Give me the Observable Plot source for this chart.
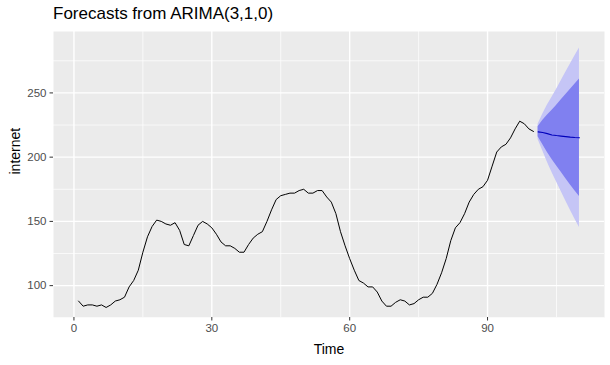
<!DOCTYPE html>
<html>
<head>
<meta charset="utf-8">
<script src="https://cdn.jsdelivr.net/npm/d3@7"></script>
<script src="https://cdn.jsdelivr.net/npm/@observablehq/plot@0.6"></script>
<style>
  body { margin: 0; background: white; }
  #wrap { position: relative; width: 610px; height: 365px; }
  #title { position: absolute; left: 53px; top: 4px; font-family: "Liberation Sans", Arial, sans-serif; font-size: 17px; color: #000; }
</style>
</head>
<body>
<div id="wrap"><div id="title">Forecasts from ARIMA(3,1,0)</div></div>
<script>
// Observed series (internet usage per minute)
const usage = [88,84,85,85,84,85,83,85,88,89,91,99,104,112,126,138,146,151,150,148,147,149,143,132,131,139,147,150,148,145,140,134,131,131,129,126,126,132,137,140,142,150,159,167,170,171,172,172,174,175,172,172,174,174,169,165,156,142,131,121,112,104,102,99,99,95,88,84,84,87,89,88,85,86,89,91,91,94,101,110,121,135,145,149,156,165,171,175,177,182,193,204,208,210,215,222,228,226,222,220];
// Forecast horizon times
const fcTime = [101,102,103,104,105,106,107,108,109,110];
const fcMean = [219.7,219.2,218.3,217.3,216.8,216.4,216.0,215.6,215.3,215.1];
const lo80 = [215.8,209.9,203.9,198.3,193.3,188.4,183.4,178.5,173.8,169.4];
const hi80 = [223.6,228.5,232.7,236.3,240.3,244.4,248.6,252.7,256.8,260.8];
const lo95 = [213.7,205.0,196.2,188.2,180.9,173.5,166.1,158.8,151.9,145.2];
const hi95 = [225.7,233.4,240.4,246.4,252.7,259.3,265.9,272.4,278.7,285.0];
// Ticks and labels
const xMajor = [0,30,60,90];
const xMinor = [15,45,75,105];
const yMajor = [100,150,200,250];
const yMinor = [75,125,175,225,275];
const xTitle = "Time";
const yTitle = "internet";

const series = usage.map((v,i) => ({t: i+1, v}));
const fc = fcTime.map((t,i) => ({t, mean: fcMean[i], lo80: lo80[i], hi80: hi80[i], lo95: lo95[i], hi95: hi95[i]}));

const chart = Plot.plot({
  width: 610, height: 365,
  marginLeft: 53, marginRight: 6, marginTop: 31, marginBottom: 48,
  style: {background: "white", fontFamily: "Liberation Sans, Arial, sans-serif", fontSize: "11.5px"},
  x: {domain: [-4.45, 115.45]},
  y: {domain: [75.2, 297.8]},
  marks: [
    Plot.frame({fill: "#EBEBEB", stroke: "none"}),
    Plot.gridX(xMinor, {stroke: "white", strokeOpacity: 1, strokeWidth: 0.7}),
    Plot.gridY(yMinor, {stroke: "white", strokeOpacity: 1, strokeWidth: 0.7}),
    Plot.gridX(xMajor, {stroke: "white", strokeOpacity: 1, strokeWidth: 1.4}),
    Plot.gridY(yMajor, {stroke: "white", strokeOpacity: 1, strokeWidth: 1.4}),
    Plot.areaY(fc, {x: "t", y1: "lo95", y2: "hi95", fill: "#C5C5F6"}),
    Plot.areaY(fc, {x: "t", y1: "lo80", y2: "hi80", fill: "#8080F0"}),
    Plot.line(series, {x: "t", y: "v", stroke: "black", strokeWidth: 1}),
    Plot.line(fc, {x: "t", y: "mean", stroke: "#0000BB", strokeWidth: 1.1}),
    Plot.axisX(xMajor, {tickSize: 3.5, tickPadding: 3, color: "#4D4D4D", stroke: "#333", fontSize: 11.5, label: null}),
    Plot.axisY(yMajor, {tickSize: 3.5, tickPadding: 3.5, color: "#4D4D4D", stroke: "#333", fontSize: 11.5, label: null}),
    Plot.text([xTitle], {frameAnchor: "bottom", dy: 32, fontSize: 14, fill: "black", lineAnchor: "middle"}),
    Plot.text([yTitle], {frameAnchor: "left", dx: -38, rotate: -90, fontSize: 14, fill: "black", lineAnchor: "middle"})
  ]
});
document.getElementById("wrap").appendChild(chart);
</script>
</body>
</html>
